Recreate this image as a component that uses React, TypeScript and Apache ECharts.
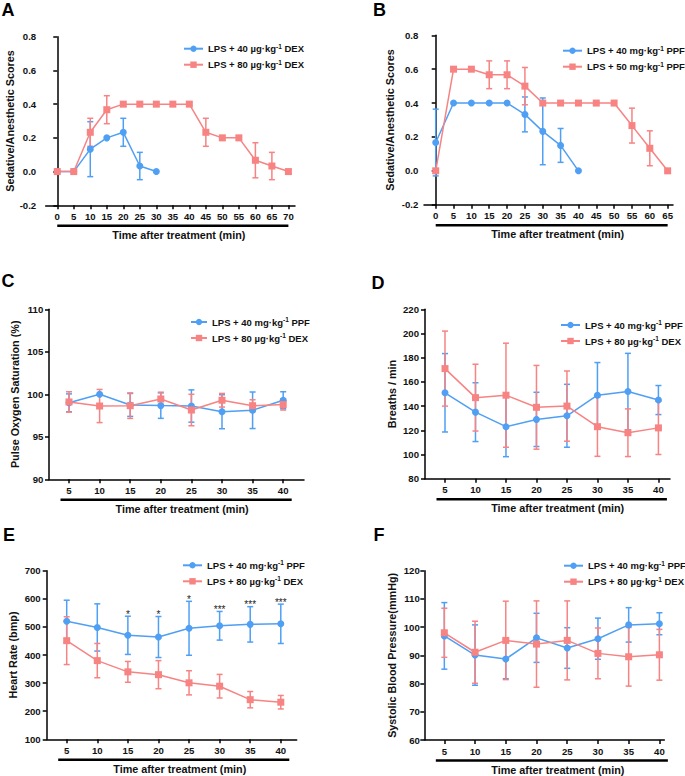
import React, { useEffect, useRef } from 'react';
import * as echarts from 'echarts';

const FONT = '"Liberation Sans", Arial, Helvetica, sans-serif';
const BLUE = '#4f9ff4';
const RED = '#f78383';
const INK = '#111111';

// ---------- names ----------
const nameDex40 = 'LPS + 40 µg·kg-1 DEX';
const nameDex80 = 'LPS + 80 µg·kg-1 DEX';
const namePpf40 = 'LPS + 40 mg·kg-1 PPF';
const namePpf50 = 'LPS + 50 mg·kg-1 PPF';
const xTitle = 'Time after treatment (min)';

// ---------- tick labels ----------
const ticksA = [0, 5, 10, 15, 20, 25, 30, 35, 40, 45, 50, 55, 60, 65, 70];
const ticksB = [0, 5, 10, 15, 20, 25, 30, 35, 40, 45, 50, 55, 60, 65];
const ticks8 = [5, 10, 15, 20, 25, 30, 35, 40];

// ---------- Panel A ----------
const aTime40 = [0, 5, 10, 15, 20, 25, 30];
const aMean40 = [0, 0, 0.133, 0.2, 0.233, 0.033, 0];
const aSd40 = [0, 0, 0.163, 0, 0.083, 0.081, 0];
const aTime80 = [0, 5, 10, 15, 20, 25, 30, 35, 40, 45, 50, 55, 60, 65, 70];
const aMean80 = [0, 0, 0.233, 0.367, 0.4, 0.4, 0.4, 0.4, 0.4, 0.233, 0.2, 0.2, 0.067, 0.033, 0];
const aSd80 = [0, 0, 0.083, 0.083, 0, 0, 0, 0, 0, 0.083, 0, 0, 0.104, 0.081, 0];

// ---------- Panel B ----------
const bTime40 = [0, 5, 10, 15, 20, 25, 30, 35, 40];
const bMean40 = [0.167, 0.4, 0.4, 0.4, 0.4, 0.333, 0.233, 0.15, 0];
const bSd40 = [0.197, 0, 0, 0, 0, 0.103, 0.197, 0.1, 0];
const bTime50 = [0, 5, 10, 15, 20, 25, 30, 35, 40, 45, 50, 55, 60, 65];
const bMean50 = [0, 0.6, 0.6, 0.567, 0.567, 0.5, 0.4, 0.4, 0.4, 0.4, 0.4, 0.267, 0.133, 0];
const bSd50 = [0, 0, 0, 0.082, 0.082, 0.11, 0, 0, 0, 0, 0, 0.103, 0.103, 0];

// ---------- Panel C (SpO2) ----------
const cPpf = [99.0, 100.0, 98.75, 98.67, 98.62, 97.95, 98.12, 99.3];
const cPpfSd = [1.05, 0, 1.35, 1.5, 1.9, 2.0, 2.15, 1.0];
const cDex = [99.1, 98.62, 98.66, 99.45, 98.15, 99.3, 98.66, 98.8];
const cDexSd = [1.2, 1.95, 1.5, 0.8, 1.85, 0.8, 0.7, 0.65];

// ---------- Panel D (breaths) ----------
const dPpf = [151, 135, 123, 129, 132, 149, 152, 145];
const dPpfSd = [32.4, 24.3, 24.8, 22.4, 26, 27, 31.6, 12];
const dDex = [171, 147, 149, 139, 140, 123, 118, 122];
const dDexSd = [31, 27.6, 43, 34.6, 29, 24.5, 19.7, 22];

// ---------- Panel E (heart rate) ----------
const ePpf = [520, 498, 470, 464, 495, 504, 509, 511];
const ePpfSd = [75, 84, 68, 73, 96, 51, 63, 70];
const eDex = [451, 380, 340, 330, 301, 289, 241, 232];
const eDexSd = [85, 61, 37, 50, 43, 42, 29, 24];
const eSig = ['', '', '*', '*', '*', '***', '***', '***'];

// ---------- Panel F (systolic BP) ----------
const fPpf = [96.9, 90.1, 88.7, 96.2, 92.6, 95.9, 100.8, 101.2];
const fPpfSd = [11.8, 10.7, 7, 8.7, 7.2, 7.3, 6.1, 3.9];
const fDex = [98.0, 91.1, 95.3, 94.0, 95.3, 90.7, 89.5, 90.2];
const fDexSd = [8.7, 11, 13.9, 15.3, 14, 9, 10.4, 9];

type S = { name: string; color: string; symbol: string; time: number[]; mean: number[]; sd: number[] };
type P = {
  letter: string; lx: number; ly: number;
  grid: { left: number; top: number; width: number; height: number };
  xMin: number; xMax: number; ticks: number[];
  yMin: number; yMax: number; yInt: number; yName: string; yDec: number; yLabelMargin: number; nameGap: number;
  barExt: number;
  legend: { left: number; top: number; itemWidth: number };
  series: S[];
  sig?: string[];
};

const panels: P[] = [
  {
    letter: 'A', lx: 1.5, ly: 1,
    grid: { left: 45.7, top: 36.7, width: 249.3, height: 168.6 },
    xMin: -3.5, xMax: 72, ticks: ticksA,
    yMin: -0.2, yMax: 0.8, yInt: 0.2, yName: 'Sedative/Anesthetic Scores', yDec: 1, yLabelMargin: 9.5, nameGap: 26.2,
    barExt: 0,
    legend: { left: 183, top: 42.7, itemWidth: 19 },
    series: [
      { name: nameDex40, color: BLUE, symbol: 'circle', time: aTime40, mean: aMean40, sd: aSd40 },
      { name: nameDex80, color: RED, symbol: 'rect', time: aTime80, mean: aMean80, sd: aSd80 },
    ],
  },
  {
    letter: 'B', lx: 373, ly: 1,
    grid: { left: 424, top: 35.3, width: 249, height: 169.4 },
    xMin: -3.28, xMax: 66.5, ticks: ticksB,
    yMin: -0.2, yMax: 0.8, yInt: 0.2, yName: 'Sedative/Anesthetic Scores', yDec: 1, yLabelMargin: 5.7, nameGap: 28.5,
    barExt: 0,
    legend: { left: 562, top: 44.7, itemWidth: 19 },
    series: [
      { name: namePpf40, color: BLUE, symbol: 'circle', time: bTime40, mean: bMean40, sd: bSd40 },
      { name: namePpf50, color: RED, symbol: 'rect', time: bTime50, mean: bMean50, sd: bSd50 },
    ],
  },
  {
    letter: 'C', lx: 1.5, ly: 272,
    grid: { left: 49, top: 309.3, width: 255, height: 170 },
    xMin: 1.73, xMax: 43.4, ticks: ticks8,
    yMin: 90, yMax: 110, yInt: 5, yName: 'Pulse Oxygen Saturation (%)', yDec: 0, yLabelMargin: 5.7, nameGap: 28.5,
    barExt: 8.5,
    legend: { left: 190, top: 316, itemWidth: 16 },
    series: [
      { name: namePpf40, color: BLUE, symbol: 'circle', time: ticks8, mean: cPpf, sd: cPpfSd },
      { name: nameDex80, color: RED, symbol: 'rect', time: ticks8, mean: cDex, sd: cDexSd },
    ],
  },
  {
    letter: 'D', lx: 371.5, ly: 273.5,
    grid: { left: 425, top: 309.3, width: 245, height: 169.4 },
    xMin: 1.72, xMax: 41.9, ticks: ticks8,
    yMin: 80, yMax: 220, yInt: 20, yName: 'Breaths / min', yDec: 0, yLabelMargin: 6, nameGap: 27.8,
    barExt: 8.5,
    legend: { left: 560, top: 319, itemWidth: 19 },
    series: [
      { name: namePpf40, color: BLUE, symbol: 'circle', time: ticks8, mean: dPpf, sd: dPpfSd },
      { name: nameDex80, color: RED, symbol: 'rect', time: ticks8, mean: dDex, sd: dDexSd },
    ],
  },
  {
    letter: 'E', lx: 3, ly: 526,
    grid: { left: 46.7, top: 570.7, width: 250, height: 168.6 },
    xMin: 1.73, xMax: 42.6, ticks: ticks8,
    yMin: 100, yMax: 700, yInt: 100, yName: 'Heart Rate (bmp)', yDec: 0, yLabelMargin: 6, nameGap: 27.9,
    barExt: 8.5,
    legend: { left: 182, top: 559.3, itemWidth: 19 },
    series: [
      { name: namePpf40, color: BLUE, symbol: 'circle', time: ticks8, mean: ePpf, sd: ePpfSd },
      { name: nameDex80, color: RED, symbol: 'rect', time: ticks8, mean: eDex, sd: eDexSd },
    ],
    sig: eSig,
  },
  {
    letter: 'F', lx: 373.5, ly: 526,
    grid: { left: 424.3, top: 570.7, width: 240, height: 169.3 },
    xMin: 1.74, xMax: 40.8, ticks: ticks8,
    yMin: 60, yMax: 120, yInt: 10, yName: 'Systolic Blood Pressure(mmHg)', yDec: 0, yLabelMargin: 4.5, nameGap: 27.1,
    barExt: 8.5,
    legend: { left: 563, top: 559.7, itemWidth: 19 },
    series: [
      { name: namePpf40, color: BLUE, symbol: 'circle', time: ticks8, mean: fPpf, sd: fPpfSd },
      { name: nameDex80, color: RED, symbol: 'rect', time: ticks8, mean: fDex, sd: fDexSd },
    ],
  },
];

function buildOption() {
  const grid: any[] = [];
  const xAxis: any[] = [];
  const yAxis: any[] = [];
  const legend: any[] = [];
  const series: any[] = [];

  panels.forEach((p, i) => {
    grid.push({ ...p.grid, outerBoundsMode: 'none', containLabel: false });
    xAxis.push({
      type: 'value', gridIndex: i, min: p.xMin, max: p.xMax,
      splitLine: { show: false },
      axisLine: { show: true, onZero: false, lineStyle: { color: '#000', width: 1.5 } },
      axisTick: { show: true, customValues: p.ticks, length: 4, lineStyle: { color: '#000', width: 1.5 } },
      axisLabel: {
        customValues: p.ticks, margin: 6, fontSize: 9.6, fontWeight: 'bold', color: INK, fontFamily: FONT,
      },
    });
    yAxis.push({
      type: 'value', gridIndex: i, min: p.yMin, max: p.yMax, interval: p.yInt,
      splitLine: { show: false },
      axisLine: { show: true, lineStyle: { color: '#000', width: 1.5 } },
      axisTick: { show: true, length: 4, lineStyle: { color: '#000', width: 1.5 } },
      axisLabel: {
        margin: p.yLabelMargin, fontSize: 9.6, fontWeight: 'bold', color: INK, fontFamily: FONT,
        formatter: (v: number) => v.toFixed(p.yDec),
      },
      name: p.yName, nameLocation: 'middle', nameGap: p.nameGap,
      nameTextStyle: { fontSize: 10.8, fontWeight: 'bold', color: INK, fontFamily: FONT },
    });
    legend.push({
      data: p.series.map((s) => s.name),
      orient: 'vertical', left: p.legend.left, top: p.legend.top,
      itemWidth: p.legend.itemWidth, itemHeight: 8, itemGap: 5, padding: 0,
      selectedMode: false,
      formatter: (name: string) => {
        const parts = name.split('-1');
        return `{b|${parts[0]}}{sup|-1}{b|${parts[1]}}`;
      },
      textStyle: {
        fontFamily: FONT, color: INK,
        rich: {
          b: { fontSize: 9.5, fontWeight: 'bold', fontFamily: FONT, color: INK, lineHeight: 12 },
          sup: { fontSize: 6.5, fontWeight: 'bold', fontFamily: FONT, color: INK, lineHeight: 7, verticalAlign: 'top' },
        },
      },
    });

    p.series.forEach((s) => {
      const color = s.color;
      series.push({
        type: 'custom', xAxisIndex: i, yAxisIndex: i, silent: true,
        data: s.time.map((t, k) => [t, s.mean[k], s.sd[k]]),
        encode: { x: 0, y: 1 },
        renderItem: (_params: any, api: any) => {
          const x = api.value(0), m = api.value(1), sd = api.value(2);
          if (!sd) return { type: 'group', children: [] };
          const top = api.coord([x, m + sd]);
          const bot = api.coord([x, m - sd]);
          const hw = 3;
          const st = { stroke: color, lineWidth: 1.5 };
          return {
            type: 'group',
            children: [
              { type: 'line', shape: { x1: top[0], y1: top[1], x2: bot[0], y2: bot[1] }, style: st },
              { type: 'line', shape: { x1: top[0] - hw, y1: top[1], x2: top[0] + hw, y2: top[1] }, style: st },
              { type: 'line', shape: { x1: bot[0] - hw, y1: bot[1], x2: bot[0] + hw, y2: bot[1] }, style: st },
            ],
          };
        },
      });
      series.push({
        type: 'line', name: s.name, xAxisIndex: i, yAxisIndex: i,
        data: s.time.map((t, k) => [t, s.mean[k]]),
        symbol: s.symbol, symbolSize: s.symbol === 'rect' ? 7 : 7, showSymbol: true,
        itemStyle: { color, borderWidth: 0 },
        lineStyle: { color, width: 1.5 },
        emphasis: { disabled: true },
      });
    });

    if (p.sig) {
      const s0 = p.series[0];
      const sig = p.sig;
      series.push({
        type: 'custom', xAxisIndex: i, yAxisIndex: i, silent: true,
        data: s0.time.map((t, k) => [t, s0.mean[k] + s0.sd[k], k]),
        encode: { x: 0, y: 1 },
        renderItem: (_params: any, api: any) => {
          const pt = api.coord([api.value(0), api.value(1)]);
          const txt = sig[api.value(2)];
          return {
            type: 'text', x: pt[0], y: pt[1] + 3,
            style: { text: txt, align: 'center', verticalAlign: 'bottom', fontSize: 10, fontFamily: FONT, fill: '#222' },
          };
        },
      });
    }
  });

  return {
    animation: false,
    backgroundColor: '#ffffff',
    textStyle: { fontFamily: FONT },
    grid, xAxis, yAxis, legend, series,
  };
}

export default function App() {
  const ref = useRef<HTMLDivElement>(null);
  useEffect(() => {
    if (!ref.current) return;
    const chart = echarts.init(ref.current, undefined, { renderer: 'svg' });
    chart.setOption(buildOption() as any);

    const graphics: any[] = [];
    panels.forEach((p, i) => {
      const first = p.ticks[0];
      const last = p.ticks[p.ticks.length - 1];
      const a = chart.convertToPixel({ gridIndex: i } as any, [first, p.yMin]) as number[];
      const b = chart.convertToPixel({ gridIndex: i } as any, [last, p.yMin]) as number[];
      const yBar = a[1] + 20.5;
      graphics.push({
        type: 'line', silent: true,
        shape: { x1: a[0] - p.barExt, y1: yBar, x2: b[0] + p.barExt, y2: yBar },
        style: { stroke: '#000', lineWidth: 2.5 },
      });
      graphics.push({
        type: 'text', silent: true, x: (a[0] + b[0]) / 2 + 6, y: yBar + 9,
        style: { text: xTitle, align: 'center', verticalAlign: 'middle', fontSize: 10.8, fontWeight: 'bold', fontFamily: FONT, fill: INK },
      });
      graphics.push({
        type: 'text', silent: true, x: p.lx, y: p.ly,
        style: { text: p.letter, align: 'left', verticalAlign: 'top', fontSize: 18, fontWeight: 'bold', fontFamily: FONT, fill: '#000' },
      });
    });
    chart.setOption({ graphic: graphics } as any);

    return () => chart.dispose();
  }, []);

  return (
    <div
      ref={ref}
      style={{ position: 'fixed', left: 0, top: 0, width: 685, height: 776, background: '#fff' }}
    />
  );
}
